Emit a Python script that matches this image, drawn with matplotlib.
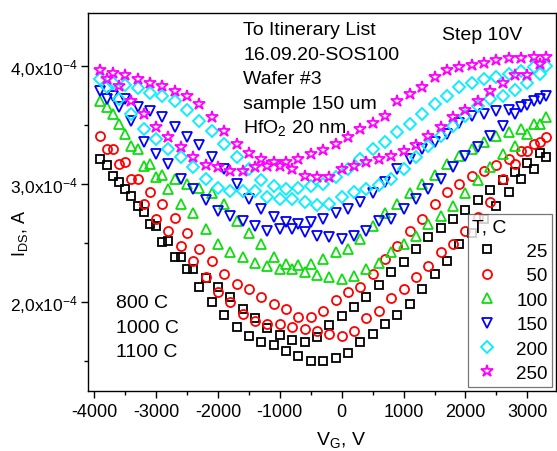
import matplotlib
matplotlib.use("Agg")
import matplotlib.pyplot as plt
from matplotlib.ticker import MultipleLocator, FixedLocator

plt.rcParams['font.family'] = ['Liberation Sans', 'DejaVu Sans']
plt.rcParams['mathtext.fontset'] = 'custom'
plt.rcParams['mathtext.rm'] = 'Liberation Sans'
plt.rcParams['mathtext.it'] = 'Liberation Sans'

# Gate voltage grids (V)
vg1 = [-3900, -3700, -3500, -3300, -3100, -2900, -2700, -2500, -2300, -2100,
       -1900, -1700, -1500, -1300, -1100, -900, -700, -500, -300, -100,
       100, 300, 500, 700, 900, 1100, 1300, 1500, 1700, 1900,
       2100, 2300, 2500, 2700, 2900, 3100, 3300]
vg2 = [-3800, -3600, -3400, -3200, -3000, -2800, -2600, -2400, -2200, -2000,
       -1800, -1600, -1400, -1200, -1000, -800, -600, -400, -200, 0,
       200, 400, 600, 800, 1000, 1200, 1400, 1600, 1800, 2000,
       2200, 2400, 2600, 2800, 3000, 3200]

# Drain current, units of 1e-4 A
ids25_1 = [3.21, 3.07, 2.96, 2.81, 2.66, 2.51, 2.38, 2.28, 2.13, 2.00, 1.89, 1.79, 1.71, 1.66, 1.63, 1.58, 1.54, 1.50, 1.50,
           1.52, 1.57, 1.66, 1.73, 1.81, 1.89, 1.98, 2.11, 2.24, 2.35, 2.49, 2.58, 2.70, 2.81, 2.93, 3.04, 3.13, 3.23]
ids25_2 = [3.16, 3.02, 2.90, 2.76, 2.64, 2.52, 2.38, 2.28, 2.20, 2.13, 2.04, 1.94, 1.86, 1.78, 1.72, 1.68, 1.66, 1.70,
           1.80, 1.88, 1.96, 2.04, 2.14, 2.25, 2.34, 2.45, 2.55, 2.63, 2.70, 2.78, 2.86, 2.95, 3.03, 3.10, 3.18, 3.26]
ids50_1 = [3.41, 3.30, 3.19, 3.04, 2.93, 2.83, 2.71, 2.58, 2.45, 2.35, 2.24, 2.15, 2.11, 2.04, 1.98, 1.94, 1.87, 1.87, 1.92,
           2.02, 2.08, 2.13, 2.24, 2.36, 2.47, 2.60, 2.70, 2.83, 2.93, 3.00, 3.07, 3.11, 3.16, 3.21, 3.28, 3.34, 3.40]
ids50_2 = [3.30, 3.17, 3.04, 2.83, 2.70, 2.60, 2.47, 2.35, 2.21, 2.08, 2.00, 1.90, 1.84, 1.81, 1.81, 1.79, 1.77, 1.75,
           1.73, 1.71, 1.75, 1.86, 1.92, 2.03, 2.11, 2.21, 2.30, 2.42, 2.49, 2.60, 2.72, 2.85, 3.04, 3.17, 3.28, 3.36]
ids100_1 = [3.70, 3.59, 3.42, 3.30, 3.17, 3.08, 3.04, 3.00, 2.97, 2.92, 2.83, 2.69, 2.58, 2.49, 2.38, 2.32, 2.31, 2.32, 2.36,
            2.42, 2.45, 2.53, 2.64, 2.75, 2.83, 2.92, 3.00, 3.08, 3.17, 3.24, 3.30, 3.36, 3.41, 3.44, 3.47, 3.51, 3.57]
ids100_2 = [3.65, 3.51, 3.32, 3.15, 3.06, 2.96, 2.83, 2.75, 2.62, 2.49, 2.42, 2.38, 2.33, 2.30, 2.28, 2.28, 2.25, 2.23,
            2.21, 2.19, 2.22, 2.28, 2.33, 2.42, 2.49, 2.56, 2.66, 2.73, 2.81, 2.92, 3.03, 3.14, 3.25, 3.32, 3.42, 3.51]
ids150_1 = [3.79, 3.75, 3.72, 3.65, 3.62, 3.57, 3.48, 3.40, 3.33, 3.23, 3.13, 3.00, 2.87, 2.79, 2.72, 2.68, 2.66, 2.68, 2.70,
            2.75, 2.79, 2.85, 2.92, 3.02, 3.13, 3.21, 3.30, 3.36, 3.42, 3.52, 3.58, 3.59, 3.62, 3.63, 3.65, 3.70, 3.75]
ids150_2 = [3.72, 3.65, 3.53, 3.36, 3.25, 3.17, 3.04, 2.96, 2.86, 2.77, 2.73, 2.69, 2.64, 2.60, 2.62, 2.62, 2.59, 2.56,
            2.55, 2.53, 2.56, 2.60, 2.69, 2.70, 2.79, 2.87, 2.96, 3.04, 3.14, 3.24, 3.31, 3.41, 3.49, 3.59, 3.67, 3.72]
ids200_1 = [3.89, 3.86, 3.84, 3.81, 3.77, 3.75, 3.70, 3.63, 3.53, 3.45, 3.34, 3.23, 3.13, 3.03, 2.98, 2.96, 2.97, 2.98, 3.00,
            3.06, 3.13, 3.21, 3.30, 3.36, 3.44, 3.51, 3.59, 3.68, 3.75, 3.82, 3.86, 3.89, 3.91, 3.93, 3.96, 3.99, 4.00]
ids200_2 = [3.82, 3.72, 3.59, 3.47, 3.38, 3.30, 3.23, 3.14, 3.04, 2.97, 2.94, 2.94, 2.94, 2.89, 2.87, 2.87, 2.85, 2.82,
            2.83, 2.89, 2.93, 2.96, 2.99, 3.04, 3.13, 3.23, 3.32, 3.41, 3.49, 3.58, 3.66, 3.72, 3.75, 3.80, 3.86, 3.93]
ids250_1 = [3.97, 3.94, 3.92, 3.89, 3.86, 3.83, 3.79, 3.75, 3.68, 3.57, 3.45, 3.34, 3.26, 3.21, 3.19, 3.19, 3.21, 3.25, 3.29,
            3.34, 3.40, 3.47, 3.52, 3.58, 3.70, 3.76, 3.82, 3.91, 3.97, 3.99, 4.01, 4.03, 4.05, 4.07, 4.07, 4.08, 4.08]
ids250_2 = [3.89, 3.83, 3.70, 3.59, 3.48, 3.40, 3.31, 3.23, 3.16, 3.14, 3.11, 3.11, 3.14, 3.15, 3.15, 3.13, 3.07, 3.06,
            3.06, 3.13, 3.15, 3.19, 3.21, 3.24, 3.28, 3.33, 3.41, 3.48, 3.57, 3.63, 3.70, 3.79, 3.86, 3.92, 3.92, 4.02]

temps = ['25', '50', '100', '150', '200', '250']
series1 = [ids25_1, ids50_1, ids100_1, ids150_1, ids200_1, ids250_1]
series2 = [ids25_2, ids50_2, ids100_2, ids150_2, ids200_2, ids250_2]
colors = ['#000000', '#FF0000', '#10DD10', '#0000FF', '#00F0FF', '#FF00FF']
markers = ['s', 'o', '^', 'v', 'D', '*']
msizes = [5.5, 6.5, 7.5, 7.5, 6.0, 9.0]

yticks = [2e-4, 3e-4, 4e-4]
ytick_labels = ['2,0x10$^{-4}$', '3,0x10$^{-4}$', '4,0x10$^{-4}$']
xticks = [-4000, -3000, -2000, -1000, 0, 1000, 2000, 3000]

fig = plt.figure(figsize=(5.57, 4.52), dpi=100)
ax = fig.add_axes([0.158, 0.133, 0.841, 0.836])

handles = []
for t, s1, s2, c, m, ms in zip(temps, series1, series2, colors, markers, msizes):
    lab = '\u2007' * (3 - len(t)) + t
    h, = ax.plot(vg1, [v * 1e-4 for v in s1], linestyle='none', marker=m, ms=ms,
                 mfc='none', mec=c, mew=1.3, label=lab)
    ax.plot(vg2, [v * 1e-4 for v in s2], linestyle='none', marker=m, ms=ms,
            mfc='none', mec=c, mew=1.3)
    handles.append(h)

ax.set_xlim(-4100, 3470)
ax.set_ylim(1.245e-4, 4.45e-4)
ax.xaxis.set_major_locator(FixedLocator(xticks))
ax.xaxis.set_minor_locator(MultipleLocator(500))
ax.yaxis.set_major_locator(FixedLocator(yticks))
ax.yaxis.set_minor_locator(MultipleLocator(0.5e-4))
ax.set_yticklabels(ytick_labels)
ax.set_xticklabels([str(v) for v in xticks])
ax.tick_params(which='major', direction='out', length=5, width=1, pad=2)
ax.tick_params(axis='x', which='major', labelsize=13, pad=4)
ax.tick_params(axis='y', which='major', labelsize=12.5, pad=2)
ax.tick_params(which='minor', direction='out', length=3, width=1)
for sp in ax.spines.values():
    sp.set_linewidth(1.0)

ax.set_xlabel('V$_G$, V', fontsize=14)
ax.xaxis.set_label_coords(0.54, -0.128)
ax.xaxis.label.set_va('center')
ax.set_ylabel('I$_{DS}$, A', fontsize=13)
ax.yaxis.set_label_coords(-0.145, 0.42)
ax.yaxis.label.set_va('center')

info = ['To Itinerary List', '16.09.20-SOS100', 'Wafer #3', 'sample 150 um', 'HfO$_2$ 20 nm']
for i, line in enumerate(info):
    ax.text(0.331, 0.944 - i * 0.0648, line, transform=ax.transAxes, fontsize=14,
            va='baseline', ha='left')
ax.text(0.755, 0.931, 'Step 10V', transform=ax.transAxes, fontsize=14,
        va='baseline', ha='left')

anneal = ['800 C', '1000 C', '1100 C']
for i, line in enumerate(anneal):
    ax.text(0.06, 0.235 - i * 0.066, line, transform=ax.transAxes, fontsize=14,
            va='center', ha='left')

leg = ax.legend(handles=handles, title='T, C', loc='lower right',
                bbox_to_anchor=(0.9915, 0.011), frameon=True, fancybox=False,
                edgecolor='#555555', fontsize=13.5, title_fontsize=14,
                handletextpad=0.75, labelspacing=0.39, borderpad=0.25,
                handlelength=1.6, borderaxespad=0, alignment='left')
leg.get_frame().set_linewidth(0.9)

fig.savefig('out.png', dpi=100)
